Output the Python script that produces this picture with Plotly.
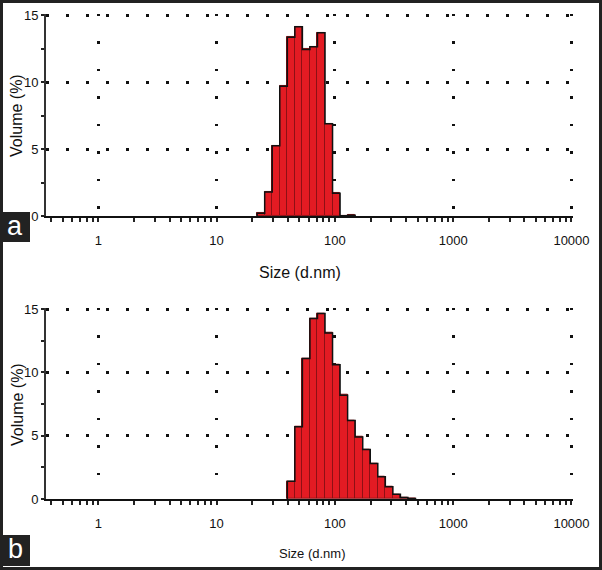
import numpy as np
import plotly.graph_objects as go

# Malvern size classes (lower edge of each bar, nm) and volume %
sizes_a = [22.02, 25.50, 29.53, 34.20, 39.61, 45.87, 53.12, 61.51, 71.24, 82.50, 95.54, 110.6, 128.1]
volume_a = [0.2, 1.8, 5.25, 9.7, 13.35, 14.15, 12.45, 12.65, 13.7, 6.9, 1.7, 0.02, 0.06]

sizes_b = [39.61, 45.87, 53.12, 61.51, 71.24, 82.50, 95.54, 110.6, 128.1, 148.4, 171.9,
           199.0, 230.5, 266.9, 309.1, 358.0, 414.6]
volume_b = [1.4, 5.7, 11.1, 14.25, 14.65, 13.1, 10.6, 8.2, 6.2, 4.9, 3.9, 2.8, 1.76, 0.97,
            0.37, 0.12, 0.03]

x_ticks = [1, 10, 100, 1000, 10000]
y_ticks = [0, 5, 10, 15]
panel_labels = ["a", "b"]

W, H = 602, 570
class_ratio = 1.1581
bin_w = np.log10(class_ratio)
RED = "#e31b23"
Y_TOP = 15.1
X_RANGE = [-0.442, 4.012]

tick_font = dict(family="Liberation Sans, Arial", size=13, color="#111")
title_font = dict(family="Liberation Sans, Arial", size=16, color="#111")

minor_vals = [np.log10(m * 10.0 ** d) for d in range(-1, 4) for m in range(2, 10)
              if np.log10(m * 10.0 ** d) > -0.442]


def px_y(p):
    return 1 - p / H


fig = go.Figure()

# y0 = pixel row of 0, y15 = pixel row of 15
panels = [
    dict(sizes=sizes_a, vol=volume_a, ax="", y0=216, y15=15.3),
    dict(sizes=sizes_b, vol=volume_b, ax="2", y0=499, y15=309),
]

for p in panels:
    left = np.log10(p["sizes"])
    fig.add_trace(go.Bar(
        x=left, y=p["vol"], width=bin_w, offset=0,
        marker=dict(color=RED, line=dict(color="#8e1015", width=1)),
        xaxis="x" + p["ax"], yaxis="y" + p["ax"], showlegend=False,
    ))
    # black outline around the histogram silhouette
    xs = [left[0]] + list(left) + [left[-1] + bin_w, left[-1] + bin_w]
    ys = [0] + list(p["vol"]) + [p["vol"][-1], 0]
    fig.add_trace(go.Scatter(
        x=xs, y=ys, mode="lines", line=dict(color="#111", width=1.5, shape="hv"),
        xaxis="x" + p["ax"], yaxis="y" + p["ax"], showlegend=False, hoverinfo="skip",
    ))

decade_px = 118.3
x_dom = [46 / W, (46 + (X_RANGE[1] - X_RANGE[0]) * decade_px) / W]
for p in panels:
    top_px = p["y0"] - Y_TOP * (p["y0"] - p["y15"]) / 15
    xa = dict(
        domain=x_dom, range=X_RANGE, anchor="y" + p["ax"], automargin=False,
        tickvals=np.log10(x_ticks), ticktext=[str(v) for v in x_ticks],
        ticks="outside", ticklen=4, tickwidth=1.5, tickcolor="#222",
        minor=dict(tickvals=minor_vals, ticks="outside", ticklen=4, tickwidth=1.5, tickcolor="#222"),
        showline=True, linecolor="#111", linewidth=2,
        showgrid=True, gridcolor="#111", gridwidth=2.5, griddash="2.5px,25px",
        zeroline=False, tickfont=tick_font, ticklabelstandoff=7,
    )
    ya = dict(
        domain=[px_y(p["y0"]), px_y(top_px)], range=[0, Y_TOP], anchor="x" + p["ax"], automargin=False,
        tickvals=y_ticks, ticks="outside", ticklen=3, tickwidth=2, tickcolor="#222",
        minor=dict(tickvals=[2.5, 7.5, 12.5], ticks="outside", ticklen=3, tickwidth=2, tickcolor="#222"),
        showline=True, linecolor="#333", linewidth=2,
        showgrid=True, gridcolor="#111", gridwidth=2.5, griddash="2.5px,17.5px",
        zeroline=False, tickfont=tick_font, ticklabelstandoff=0,
    )
    fig.layout["xaxis" + p["ax"]] = xa
    fig.layout["yaxis" + p["ax"]] = ya

annotations = [
    dict(x=300 / W, y=px_y(273), text="Size (d.nm)", font=title_font),
    dict(x=312 / W, y=px_y(553), text="Size (d.nm)",
         font=dict(family="Liberation Sans, Arial", size=13, color="#111")),
    dict(x=17 / W, y=px_y(116), text="Volume (%)", font=title_font, textangle=-90),
    dict(x=17 / W, y=px_y(405), text="Volume (%)", font=title_font, textangle=-90),
    dict(x=15 / W, y=px_y(226), text=panel_labels[0],
         font=dict(family="Liberation Sans, Arial", size=27, color="white")),
    dict(x=15 / W, y=px_y(549), text=panel_labels[1],
         font=dict(family="Liberation Sans, Arial", size=27, color="white")),
]
for a in annotations:
    a.update(xref="paper", yref="paper", showarrow=False, xanchor="center", yanchor="middle")

shapes = [
    dict(type="rect", xref="paper", yref="paper", x0=0, x1=30 / W, y0=px_y(242), y1=px_y(212),
         fillcolor="#222", line=dict(width=0), layer="above"),
    dict(type="rect", xref="paper", yref="paper", x0=0, x1=30 / W, y0=px_y(566), y1=px_y(535),
         fillcolor="#222", line=dict(width=0), layer="above"),
    dict(type="rect", xref="paper", yref="paper", x0=0, x1=1, y0=0, y1=1,
         line=dict(color="#222", width=6), layer="above"),
]

fig.update_layout(
    width=W, height=H, margin=dict(l=0, r=0, t=0, b=0),
    paper_bgcolor="white", plot_bgcolor="white",
    bargap=0, annotations=annotations, shapes=shapes,
)
# page body has a default 8px margin; drop it so the figure fills the window
fig.write_html("out.html", config={"displayModeBar": False},
               post_script="document.body.style.margin='0px';")
